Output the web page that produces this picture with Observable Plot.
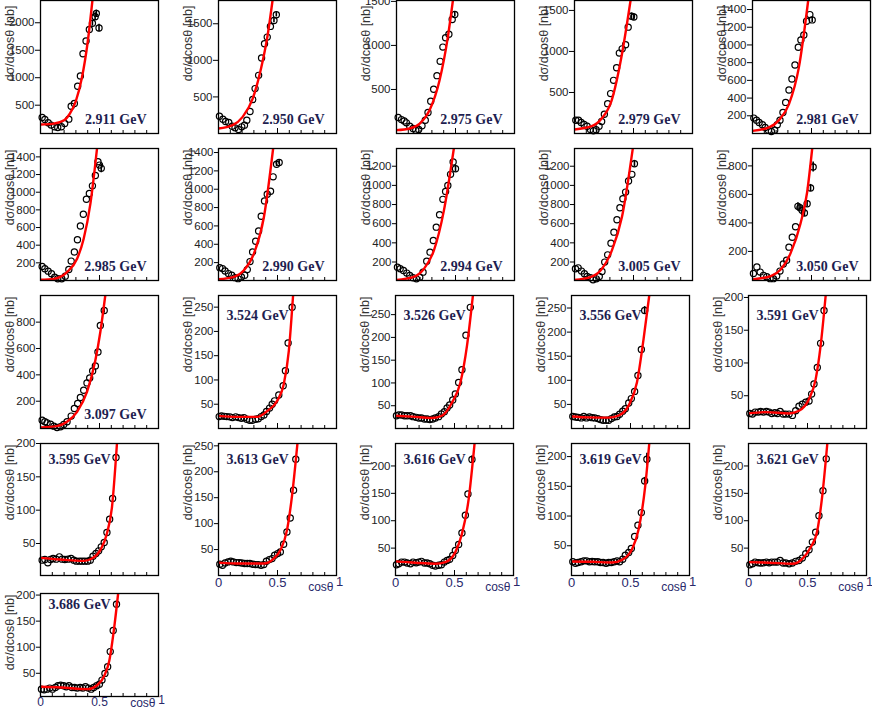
<!DOCTYPE html>
<html><head><meta charset="utf-8">
<script src="https://cdn.jsdelivr.net/npm/d3@7"></script>
<script src="https://cdn.jsdelivr.net/npm/@observablehq/plot@0.6"></script>
<style>
html,body{margin:0;padding:0;background:#fff;}
#root{position:relative;width:872px;height:710px;overflow:hidden;background:#fff;}
#root svg{position:absolute;overflow:visible;background:none;}
</style></head><body><div id="root"></div>
<script>
// ---------- DATA ----------
const energies = ["2.911 GeV","2.950 GeV","2.975 GeV","2.979 GeV","2.981 GeV","2.985 GeV","2.990 GeV","2.994 GeV","3.005 GeV","3.050 GeV","3.097 GeV","3.524 GeV","3.526 GeV","3.556 GeV","3.591 GeV","3.595 GeV","3.613 GeV","3.616 GeV","3.619 GeV","3.621 GeV","3.686 GeV"];
const yMin = [-15,0,0,0,0,0,5,7,7,-4,-7,0,0,0,0,2,0,0,0,0,5.5];
const yMax = [2405,1818,1510,1621,1502,1495,1444,1385,1385,922,1002,274,292,276,203,200,254.5,241,222,241,203];
const yTicks = [
  [500,1000,1500,2000],[500,1000,1500],[500,1000,1500],[500,1000,1500],[200,400,600,800,1000,1200,1400],
  [200,400,600,800,1000,1200,1400],[200,400,600,800,1000,1200,1400],[200,400,600,800,1000,1200],[200,400,600,800,1000,1200],[200,400,600,800],
  [200,400,600,800],[50,100,150,200,250],[50,100,150,200,250],[50,100,150,200,250],[50,100,150,200],
  [50,100,150,200],[50,100,150,200,250],[50,100,150,200],[50,100,150,200],[50,100,150,200],
  [50,100,150,200]
];
const xTickValues = [0.1,0.2,0.3,0.4,0.5,0.6,0.7,0.8,0.9];
const yTitle = "dσ/dcosθ [nb]";
const xTitle = "cosθ";

// measured points [cosθ, dσ/dcosθ, error]
const p2911 = [[0.014,276],[0.037,240],[0.065,180],[0.09,138],[0.118,107],[0.146,95],[0.177,107],[0.205,168],[0.24,246],[0.26,482],[0.287,530],[0.315,845],[0.338,1032],[0.36,1437],[0.386,1667],[0.414,1878],[0.44,1990,50],[0.463,2110,70],[0.473,2170,60],[0.496,1905,70]];
const p2950 = [[0.008,236],[0.037,195],[0.06,164],[0.087,150],[0.115,100],[0.14,77],[0.17,55],[0.197,91],[0.22,114],[0.24,182],[0.267,300],[0.29,464],[0.31,614],[0.34,795],[0.365,1032],[0.39,1227],[0.413,1318],[0.44,1464],[0.47,1545,30],[0.49,1623,30]];
const p2975 = [[0.014,181],[0.042,158],[0.065,143],[0.084,121],[0.112,83],[0.14,57],[0.163,38],[0.188,45],[0.216,87],[0.244,151],[0.267,238],[0.29,366],[0.315,502],[0.343,657],[0.37,819],[0.393,981],[0.416,1087],[0.444,1128],[0.472,1294],[0.494,1351,25]];
const p2979 = [[0.011,162],[0.034,162],[0.056,134],[0.081,109],[0.107,89],[0.135,49],[0.16,32],[0.183,45],[0.208,89],[0.23,146],[0.253,235],[0.281,364],[0.306,486],[0.331,648],[0.357,802],[0.38,980],[0.404,1032],[0.433,1081],[0.455,1296],[0.483,1429,40],[0.503,1420,40]];
const p2981 = [[0.011,174],[0.034,151],[0.056,125],[0.084,98],[0.107,68],[0.135,38],[0.16,23],[0.188,38],[0.21,98],[0.233,151],[0.258,238],[0.281,351],[0.309,491],[0.334,615],[0.36,774],[0.388,974],[0.41,1057],[0.435,1113],[0.458,1268],[0.486,1343],[0.506,1283,30]];
const p2985 = [[0.014,159],[0.037,133],[0.065,106],[0.093,76],[0.12,38],[0.146,19],[0.18,19],[0.21,49],[0.24,125],[0.26,220],[0.287,322],[0.313,462],[0.338,617],[0.363,750],[0.389,920],[0.414,985],[0.44,1072],[0.465,1190],[0.487,1345],[0.5,1307],[0.515,1270,50]];
const p2990 = [[0.011,145],[0.034,135],[0.056,109],[0.084,80],[0.112,62],[0.14,36],[0.166,25],[0.194,44],[0.222,62],[0.244,124],[0.267,211],[0.289,316],[0.315,433],[0.34,545],[0.362,705],[0.39,873],[0.413,945],[0.441,978],[0.463,1135],[0.492,1273,25],[0.514,1291,25]];
const p2994 = [[0.008,146],[0.031,129],[0.059,111],[0.087,84],[0.112,59],[0.14,35],[0.169,24],[0.197,42],[0.225,94],[0.256,209],[0.284,303],[0.312,425],[0.337,564],[0.365,693],[0.393,854],[0.416,937],[0.435,1000],[0.458,1115],[0.48,1244],[0.5,1174,35]];
const p3005 = [[0.008,129],[0.031,139],[0.059,105],[0.084,77],[0.107,49],[0.135,35],[0.157,14],[0.185,24],[0.21,49],[0.233,101],[0.256,199],[0.281,275],[0.309,397],[0.334,512],[0.36,641],[0.385,767],[0.41,861],[0.433,930],[0.458,1045],[0.486,1115],[0.508,1226,35]];
const p3050 = [[0.008,45],[0.037,91],[0.065,55],[0.093,32],[0.121,22],[0.149,9],[0.177,9],[0.205,27],[0.233,62],[0.261,112],[0.289,138],[0.309,230],[0.337,299],[0.365,373],[0.385,516,25],[0.402,507,20],[0.42,488,25],[0.44,470,25],[0.463,534,20],[0.492,645,25],[0.514,793,35]];
const p3097 = [[0.014,56],[0.037,44],[0.056,36],[0.085,26],[0.113,11],[0.14,1],[0.17,6],[0.197,23],[0.225,44],[0.26,87],[0.287,145],[0.315,183],[0.338,228],[0.366,283],[0.394,339],[0.417,376],[0.442,429],[0.465,467],[0.487,573],[0.507,775],[0.54,888,20]];
const p3524 = [[0.006,24.5],[0.025,26],[0.048,25],[0.07,24.5],[0.096,24],[0.118,22.5],[0.146,24],[0.169,22.5],[0.194,21],[0.216,22.5],[0.239,19],[0.264,17],[0.287,17],[0.315,19],[0.337,20],[0.362,24.5],[0.385,28],[0.407,35],[0.433,42],[0.455,50],[0.475,57],[0.511,69],[0.548,88],[0.567,119],[0.59,176],[0.624,250,6]];
const p3526 = [[0.008,28],[0.028,30],[0.051,29.5],[0.076,28],[0.099,28],[0.127,28],[0.149,26],[0.175,24.5],[0.197,23],[0.22,23],[0.245,21],[0.268,21],[0.29,19.5],[0.315,21],[0.338,23],[0.366,26],[0.389,32],[0.414,37],[0.437,45],[0.459,51.5],[0.485,62.5],[0.507,76],[0.535,101],[0.563,129],[0.597,205],[0.634,266]];
const p3556 = [[0.011,25],[0.034,24],[0.056,23],[0.082,22],[0.104,25],[0.127,22],[0.152,24],[0.175,22.5],[0.197,22],[0.223,20.5],[0.245,18.5],[0.268,17],[0.293,17],[0.315,17],[0.338,20.5],[0.363,24],[0.386,25],[0.408,29.5],[0.434,36],[0.456,41],[0.485,53],[0.507,62],[0.535,77],[0.563,110],[0.592,164],[0.62,245,8]];
const p3591 = [[0.011,23],[0.034,22],[0.056,25],[0.082,25],[0.104,26],[0.127,25],[0.152,26],[0.175,25],[0.197,23],[0.223,24],[0.245,23],[0.268,26],[0.293,22],[0.315,22],[0.344,22],[0.372,20],[0.4,27],[0.428,34],[0.456,37],[0.485,40],[0.513,42],[0.535,52.5],[0.555,68],[0.583,93],[0.611,130],[0.64,180,5]];
const p3595 = [[0.014,25],[0.037,26],[0.062,21],[0.085,26],[0.107,27.5],[0.132,26.5],[0.16,30],[0.183,26.5],[0.206,26],[0.234,26.5],[0.259,27.5],[0.282,25],[0.304,23.5],[0.33,23.5],[0.352,23.5],[0.375,23.5],[0.4,23.5],[0.422,25],[0.445,31],[0.47,35],[0.493,39],[0.515,45],[0.54,51.5],[0.563,66.5],[0.586,86.5],[0.611,117.5],[0.64,179,5]];
const p3613 = [[0.011,21.7],[0.034,19.8],[0.056,24.2],[0.081,26.2],[0.104,27.5],[0.126,26.2],[0.151,24.9],[0.174,24.9],[0.196,24.2],[0.221,23],[0.244,23],[0.266,23],[0.291,21.7],[0.314,21],[0.336,21],[0.361,19.8],[0.384,21],[0.406,27.5],[0.431,30.7],[0.454,32.6],[0.476,39],[0.501,42.2],[0.524,45.4],[0.552,60.2],[0.58,84],[0.608,111],[0.636,164.5],[0.655,224.3,6]];
const p3616 = [[0.008,19.7],[0.028,21.5],[0.051,24.5],[0.076,24.5],[0.099,22.7],[0.127,21.5],[0.149,24.5],[0.175,23.3],[0.197,24.5],[0.22,25.8],[0.245,22.7],[0.268,22.7],[0.29,21.5],[0.315,18.6],[0.338,17.4],[0.366,18.6],[0.389,19.7],[0.414,24.5],[0.437,27.6],[0.459,29.5],[0.485,36.7],[0.507,45.8],[0.535,56.6],[0.563,77.8],[0.592,110],[0.614,148.8],[0.648,212,6]];
const p3619 = [[0.011,23],[0.034,20.7],[0.056,21.8],[0.082,23],[0.104,24.6],[0.127,24.6],[0.152,23],[0.175,23.5],[0.197,23],[0.223,23],[0.245,21.8],[0.268,21.8],[0.293,20.7],[0.315,21.8],[0.338,21.8],[0.363,23],[0.386,24.6],[0.408,23],[0.434,27.4],[0.456,34],[0.485,38.6],[0.507,45.3],[0.535,65.5],[0.563,84.5],[0.592,105.8],[0.62,159,6],[0.639,195.4,10]];
const p3621 = [[0.011,19.7],[0.034,21.5],[0.056,24.5],[0.082,23.3],[0.104,22.7],[0.127,23.3],[0.152,24.5],[0.175,23.3],[0.197,24.5],[0.223,24.5],[0.245,24.5],[0.268,27.5],[0.293,22.7],[0.315,22.7],[0.344,21.5],[0.372,22.7],[0.4,25.8],[0.428,27.5],[0.456,31.8],[0.485,39.7],[0.513,47],[0.541,61],[0.569,79],[0.597,109.3],[0.631,154.6],[0.659,213,6]];
const p3686 = [[0.008,19.6],[0.031,18.3],[0.056,19.6],[0.078,21.6],[0.101,19.6],[0.126,22.8],[0.148,26],[0.171,27.3],[0.196,26],[0.218,24.1],[0.241,26],[0.266,22.8],[0.289,22.8],[0.311,21.6],[0.336,22.8],[0.359,21.6],[0.381,24.1],[0.406,21.6],[0.429,19.6],[0.451,22.8],[0.476,26],[0.499,29.2],[0.521,36.9],[0.546,49.8],[0.569,62.7],[0.591,91.6],[0.616,132.1],[0.644,182.3,5]];

// fitted curves [cosθ, value]
const f2911 = [[0,150],[0.1,160],[0.2,225],[0.25,350],[0.3,580],[0.35,990],[0.4,1650],[0.44,2405]];
const f2950 = [[0,68],[0.12,114],[0.205,227],[0.29,477],[0.36,886],[0.416,1340],[0.458,1818]];
const f2975 = [[0,38],[0.112,57],[0.197,113],[0.28,264],[0.365,604],[0.435,1094],[0.478,1510]];
const f2979 = [[0,49],[0.146,89],[0.23,182],[0.315,405],[0.4,951],[0.475,1621]];
const f2981 = [[0,30],[0.14,68],[0.225,151],[0.309,332],[0.393,747],[0.472,1502]];
const f2985 = [[0,8],[0.113,19],[0.225,95],[0.31,246],[0.366,473],[0.423,871],[0.479,1495]];
const f2990 = [[0,18],[0.132,44],[0.216,116],[0.3,298],[0.385,698],[0.463,1444]];
const f2994 = [[0,14],[0.14,42],[0.233,129],[0.317,321],[0.402,739],[0.486,1385]];
const f3005 = [[0,14],[0.135,42],[0.233,129],[0.317,321],[0.402,669],[0.494,1385]];
const f3050 = [[0,4],[0.155,27],[0.239,73],[0.323,188],[0.407,396],[0.463,615],[0.506,922]];
const f3097 = [[0,1],[0.14,11],[0.225,44],[0.31,119],[0.394,270],[0.465,510],[0.507,725],[0.549,1002]];
const f3524 = [[0,26],[0.16,24],[0.329,24],[0.413,36],[0.497,57],[0.553,91],[0.596,160],[0.632,274]];
const f3526 = [[0,28],[0.141,26],[0.31,23],[0.394,28],[0.479,57],[0.55,101],[0.606,182],[0.656,292]];
const f3556 = [[0,25],[0.146,23],[0.315,22.5],[0.4,27],[0.485,48],[0.555,96],[0.611,186],[0.659,276]];
const f3591 = [[0,23],[0.146,25],[0.344,23],[0.428,27],[0.513,45],[0.569,75],[0.611,126],[0.654,203]];
const f3595 = [[0,28.5],[0.169,26],[0.366,24],[0.437,27.5],[0.507,40],[0.563,65],[0.606,105],[0.648,200]];
const f3613 = [[0,24.9],[0.188,23],[0.384,23],[0.468,32.6],[0.524,48.6],[0.58,87],[0.622,151.5],[0.669,254.5]];
const f3616 = [[0,25.8],[0.169,23.3],[0.338,21.5],[0.423,24.5],[0.507,42.7],[0.563,76],[0.62,139.6],[0.67,241]];
const f3619 = [[0,23.5],[0.175,23],[0.344,21.8],[0.428,26.3],[0.513,44.2],[0.569,77.8],[0.625,150.6],[0.659,222]];
const f3621 = [[0,24.5],[0.175,23.3],[0.372,21.5],[0.456,30.5],[0.527,51.6],[0.583,81.9],[0.625,145.5],[0.668,241]];
const f3686 = [[0,24.1],[0.176,22.8],[0.4,19.6],[0.485,28],[0.541,45.3],[0.583,74.2],[0.625,138.6],[0.658,203]];

const pointSets = [p2911,p2950,p2975,p2979,p2981,p2985,p2990,p2994,p3005,p3050,p3097,p3524,p3526,p3556,p3591,p3595,p3613,p3616,p3619,p3621,p3686];
const fitSets = [f2911,f2950,f2975,f2979,f2981,f2985,f2990,f2994,f3005,f3050,f3097,f3524,f3526,f3556,f3591,f3595,f3613,f3616,f3619,f3621,f3686];

// ---------- LAYOUT ----------
const colLeftTop = [40,218,396,574,752];
const colLeftBottom = [40,218,395,571,748];
const rowTop = [0,148,295,443,593];
const rowBottom = [133,280,428,575,696];
const frameW = 118;
const labelDyTop = {2:20, 3:16, 4:11};
const navy = "#29296b";

const root = document.getElementById("root");

energies.forEach((energy, i) => {
  const row = Math.floor(i / 5), col = i % 5;
  const left = row <= 1 ? colLeftTop[col] : colLeftBottom[col];
  const top = rowTop[row];
  const fh = rowBottom[row] - rowTop[row];
  const showX = (row === 3 && col > 0) || row === 4;
  const lastRow = row === 4;
  const lowE = i <= 10;
  const ml = 40, mr = 8, mt = 6, mb = showX ? 24 : 6;
  const y0 = yMin[i], y1 = yMax[i];
  const span = y1 - y0;
  const pts = pointSets[i];
  const marks = [
    Plot.axisY(yTicks[i], {anchor: "left", tickSize: row === 0 ? 5 : 4, tickPadding: 1, fontSize: 11.5, fill: "#222", stroke: "#000", tickFormat: d => String(d)}),
    Plot.ruleX(xTickValues, {x: d => d, y1: y0, y2: d => y0 + span * (d === 0.5 ? 5 : 3) / fh, stroke: "#000", strokeWidth: 1}),
    Plot.ruleX(pts.filter(d => d[2]), {x: d => d[0], y1: d => d[1] - d[2], y2: d => d[1] + d[2], stroke: "#000", strokeWidth: 1.6, clip: true}),
    Plot.dot(pts, {x: d => d[0], y: d => d[1], r: 3.1, stroke: "#000", strokeWidth: 1.2, fill: "none"}),
    Plot.line(fitSets[i], {x: d => d[0], y: d => d[1], stroke: "#ff0000", strokeWidth: 2.4, curve: "monotone-x", clip: true}),
    Plot.frame({stroke: "#000", strokeWidth: 1.3}),
    Plot.text([yTitle], {frameAnchor: "top-left", rotate: -90, textAnchor: "end", lineAnchor: "middle", dx: -31, dy: row === 0 ? 5 : 1, fontSize: 12.5, fill: "#333"}),
    lowE
      ? Plot.text([energy], {frameAnchor: "bottom-right", textAnchor: "end", lineAnchor: "middle", dx: -12, dy: -14, fontFamily: "'Liberation Serif', 'Times New Roman', serif", fontWeight: "bold", fontSize: 14, fill: "#1e1e50"})
      : Plot.text([energy], {frameAnchor: "top-left", textAnchor: "start", lineAnchor: "middle", dx: 8, dy: labelDyTop[row], fontFamily: "'Liberation Serif', 'Times New Roman', serif", fontWeight: "bold", fontSize: 14, fill: "#1e1e50"})
  ];
  if (showX) {
    marks.push(
      Plot.axisX([0, 0.5], {anchor: "bottom", tickSize: 0, tickPadding: lastRow ? 1 : 2, fontSize: lastRow ? 12 : 13, fill: navy, tickFormat: d => (d === 0 ? "0" : "0.5")}),
      Plot.text(["1"], {frameAnchor: "bottom-right", textAnchor: "middle", lineAnchor: "middle", dx: 3, dy: lastRow ? 4 : 6, fontSize: lastRow ? 12 : 13, fill: navy}),
      Plot.text([xTitle], {frameAnchor: "bottom-right", textAnchor: "end", lineAnchor: "middle", dx: -3, dy: lastRow ? 7 : 12, fontSize: 12, fill: navy})
    );
  }
  const svg = Plot.plot({
    width: ml + frameW + mr,
    height: mt + fh + mb,
    marginLeft: ml, marginRight: mr, marginTop: mt, marginBottom: mb,
    style: {fontFamily: "'Liberation Sans', Arial, sans-serif", background: "transparent", overflow: "visible"},
    x: {domain: [0, 1], axis: null},
    y: {domain: [y0, y1], axis: null},
    marks
  });
  svg.style.left = (left - ml) + "px";
  svg.style.top = (top - mt) + "px";
  root.appendChild(svg);
});
</script>
</body></html>
